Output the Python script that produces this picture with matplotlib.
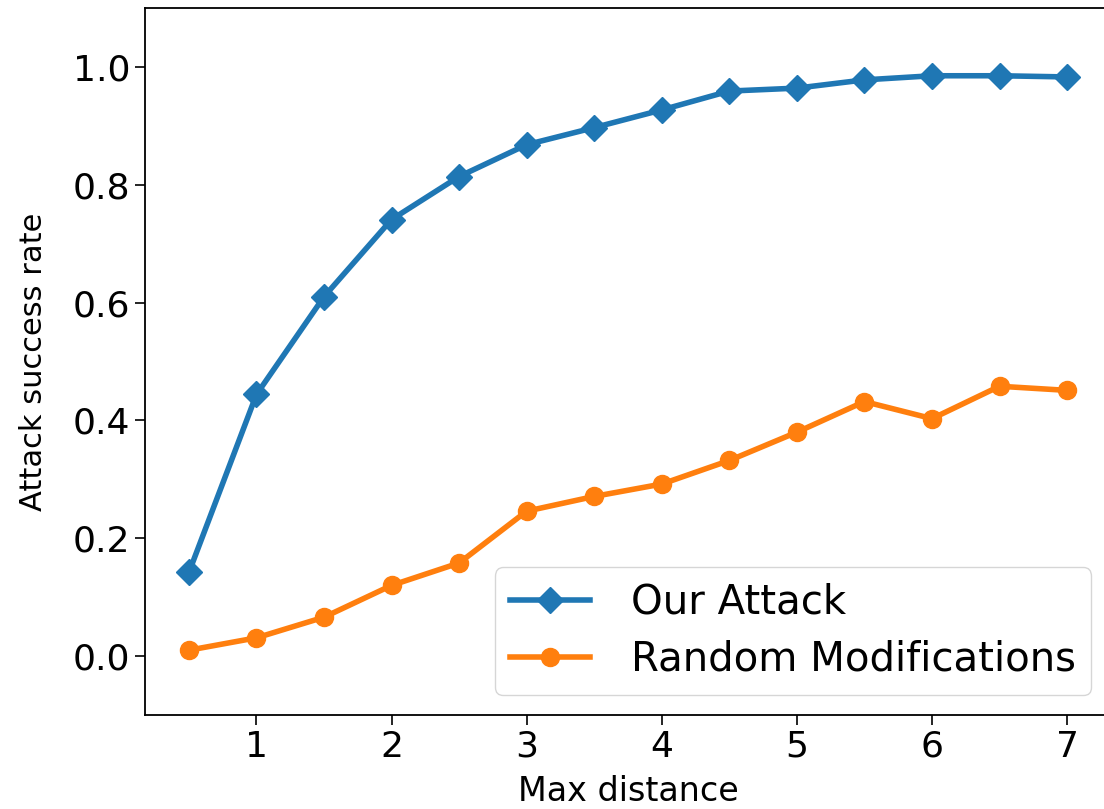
import matplotlib
matplotlib.use("Agg")
import matplotlib.pyplot as plt

max_distance = [0.5, 1.0, 1.5, 2.0, 2.5, 3.0, 3.5, 4.0, 4.5, 5.0, 5.5, 6.0, 6.5, 7.0]
our_attack = [0.142, 0.444, 0.610, 0.741, 0.814, 0.868, 0.897, 0.927, 0.959, 0.964, 0.978, 0.985, 0.985, 0.983]
random_mods = [0.010, 0.031, 0.066, 0.120, 0.158, 0.246, 0.271, 0.292, 0.332, 0.380, 0.432, 0.403, 0.458, 0.451]
xticks = [1, 2, 3, 4, 5, 6, 7]
yticks = [0.0, 0.2, 0.4, 0.6, 0.8, 1.0]

W, H = 1104, 809
fig = plt.figure(figsize=(W/100, H/100), dpi=100)
ax = fig.add_axes([145/W, 1-715/H, (1111-145)/W, (715-8)/H])
ax.plot(max_distance, our_attack, color='#1f77b4', marker='D', markersize=13, linewidth=4, label='Our Attack')
ax.plot(max_distance, random_mods, color='#ff7f0e', marker='o', markersize=13, linewidth=4, label='Random Modifications')
ax.set_xlim(0.175, 7.325)
ax.set_ylim(-0.1, 1.1)
ax.set_xticks(xticks)
ax.set_yticks(yticks)
ax.set_yticklabels([f"{v:.1f}" for v in yticks])
ax.tick_params(labelsize=26, length=7, width=1.2)
for s in ax.spines.values():
    s.set_linewidth(1.3)
ax.set_xlabel('Max distance', fontsize=24, labelpad=8)
ax.set_ylabel('Attack success rate', fontsize=22, labelpad=18)
ax.legend(loc='lower right', fontsize=29, labelspacing=0.42, borderpad=0.38,
          handlelength=2.0, handletextpad=1.0, bbox_to_anchor=(1091/W, 1-695/H),
          bbox_transform=fig.transFigure, borderaxespad=0)
fig.savefig('out.png', dpi=100)
